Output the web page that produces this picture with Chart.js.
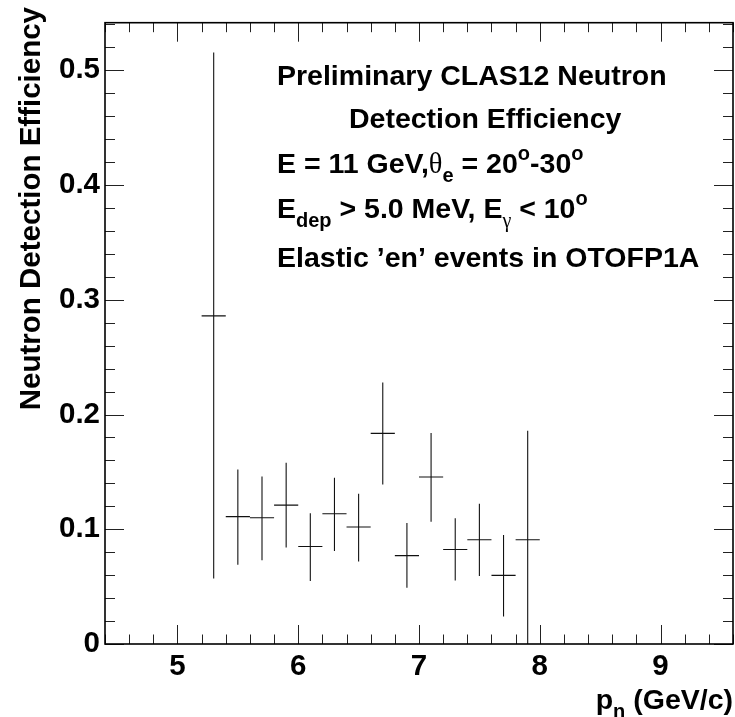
<!DOCTYPE html>
<html>
<head>
<meta charset="utf-8">
<script src="https://cdn.jsdelivr.net/npm/chart.js@4.4.1/dist/chart.umd.min.js"></script>
<style>
  html, body { margin: 0; padding: 0; background: #fff; }
  #wrap { width: 735px; height: 717px; position: relative; }
</style>
</head>
<body>
<div id="wrap"><canvas id="chart"></canvas></div>
<script>
// neutron momentum bin centres (GeV/c) and half bin width
const pn = [5.3, 5.5, 5.7, 5.9, 6.1, 6.3, 6.5, 6.7, 6.9, 7.1, 7.3, 7.5, 7.7, 7.9]
const binHalf = 0.1
// efficiency and the ends of its error bar
const eff     = [0.286, 0.111, 0.110, 0.121, 0.085, 0.1135, 0.102, 0.1836, 0.077, 0.1455, 0.0823, 0.0908, 0.0598, 0.0908]
const effHigh = [0.5155, 0.152, 0.146, 0.158, 0.114, 0.145, 0.131, 0.228, 0.1055, 0.184, 0.1095, 0.1223, 0.095, 0.1858]
const effLow  = [0.057, 0.069, 0.073, 0.084, 0.055, 0.081, 0.072, 0.139, 0.049, 0.1066, 0.0553, 0.0593, 0.024, -0.004]

const xTicks = [5, 6, 7, 8, 9]
const yTicks = [0, 0.1, 0.2, 0.3, 0.4, 0.5]
const yTickLabels = ["0", "0.1", "0.2", "0.3", "0.4", "0.5"]

const xRange = [4.4, 9.6]
const yRange = [0, 0.5415]

const FONT = "'Liberation Sans', Arial, Helvetica, sans-serif"
const SERIF = "'Liberation Serif', 'DejaVu Serif', serif"

// text lines: pieces are [text, kind, font]
const notes = [
  { x: 277, y: 85, parts: [["Preliminary CLAS12 Neutron"]] },
  { x: 349, y: 128, parts: [["Detection Efficiency"]] },
  { x: 277, y: 173, parts: [["E = 11 GeV,"], ["\u03b8", null, "serif"], ["e", "sub"], [" = 20"], ["o", "sup"], ["-30"], ["o", "sup"]] },
  { x: 277, y: 218, parts: [["E"], ["dep", "sub"], [" > 5.0 MeV, E"], ["\u03b3", "sub", "serif"], [" < 10"], ["o", "sup"]] },
  { x: 277, y: 267, parts: [["Elastic \u2019en\u2019 events in OTOFP1A"]] }
]

function pieceFont(p, size) {
  const s = p[1] ? Math.round(size * 0.7) : size
  if (p[2] === "serif") return s + "px " + SERIF
  return "bold " + s + "px " + FONT
}

function richWidth(ctx, parts, size) {
  let w = 0
  parts.forEach(p => { ctx.font = pieceFont(p, size); w += ctx.measureText(p[0]).width })
  return w
}

function drawRich(ctx, parts, x, y, size) {
  ctx.textBaseline = "alphabetic"
  ctx.textAlign = "left"
  parts.forEach(p => {
    ctx.font = pieceFont(p, size)
    let dy = 0
    if (p[1] === "sub") dy = size * 0.3
    if (p[1] === "sup") dy = -size * 0.45
    ctx.fillText(p[0], x, y + dy)
    x += ctx.measureText(p[0]).width
  })
}

const rootStyle = {
  id: "rootStyle",
  afterDatasetsDraw(chart) {
    const { ctx, chartArea: a, scales: { x, y } } = chart
    ctx.save()

    // error bars
    ctx.beginPath()
    ctx.rect(a.left, a.top, a.right - a.left, a.bottom - a.top)
    ctx.clip()
    ctx.strokeStyle = "#111"
    ctx.lineWidth = 1.1
    pn.forEach((v, i) => {
      const px = x.getPixelForValue(v)
      const py = y.getPixelForValue(eff[i])
      ctx.beginPath()
      ctx.moveTo(x.getPixelForValue(v - binHalf), py)
      ctx.lineTo(x.getPixelForValue(v + binHalf), py)
      ctx.moveTo(px, y.getPixelForValue(effLow[i]))
      ctx.lineTo(px, y.getPixelForValue(effHigh[i]))
      ctx.stroke()
    })
    ctx.restore()
    ctx.save()

    // inner ticks on all four sides
    ctx.strokeStyle = "#222"
    ctx.lineWidth = 1
    ctx.beginPath()
    for (let k = Math.ceil(xRange[0] / 0.2); k * 0.2 <= xRange[1] + 1e-9; k++) {
      const v = k * 0.2
      const major = Math.abs(v - Math.round(v)) < 1e-6
      const len = major ? 19 : 9.5
      const px = Math.round(x.getPixelForValue(v)) + 0.5
      ctx.moveTo(px, a.bottom); ctx.lineTo(px, a.bottom - len)
      ctx.moveTo(px, a.top); ctx.lineTo(px, a.top + len)
    }
    for (let k = 0; k * 0.02 <= yRange[1] + 1e-9; k++) {
      const v = k * 0.02
      const major = k % 5 === 0
      const len = major ? 19 : 10
      const py = Math.round(y.getPixelForValue(v)) + 0.5
      ctx.moveTo(a.left, py); ctx.lineTo(a.left + len, py)
      ctx.moveTo(a.right, py); ctx.lineTo(a.right - len, py)
    }
    ctx.stroke()

    // frame
    ctx.strokeStyle = "#000"
    ctx.lineWidth = 1.6
    ctx.strokeRect(a.left, a.top, a.right - a.left, a.bottom - a.top)

    // axis titles
    ctx.fillStyle = "#000"
    ctx.save()
    ctx.translate(40, 7)
    ctx.rotate(-Math.PI / 2)
    ctx.font = "bold 29.5px " + FONT
    ctx.textAlign = "right"
    ctx.textBaseline = "alphabetic"
    ctx.fillText("Neutron Detection Efficiency", 0, 0)
    ctx.restore()

    const xTitle = [["p"], ["n", "sub"], [" (GeV/c)"]]
    const tw = richWidth(ctx, xTitle, 28.5)
    drawRich(ctx, xTitle, a.right - tw, 709, 28.5)

    // annotation block
    notes.forEach(n => drawRich(ctx, n.parts, n.x, n.y, 28.5))
    ctx.restore()
  }
}

new Chart(document.getElementById("chart"), {
  type: "scatter",
  data: {
    datasets: [{
      label: "efficiency",
      data: pn.map((v, i) => ({ x: v, y: eff[i] })),
      pointRadius: 0,
      showLine: false
    }]
  },
  options: {
    responsive: true,
    maintainAspectRatio: false,
    animation: false,
    layout: { padding: { top: 7, right: 2, left: 0, bottom: 0 } },
    plugins: { legend: { display: false }, tooltip: { enabled: false } },
    scales: {
      x: {
        type: "linear",
        min: xRange[0],
        max: xRange[1],
        afterBuildTicks: s => { s.ticks = xTicks.map(v => ({ value: v })) },
        afterFit: s => { s.height = 73 },
        grid: { display: false, drawTicks: false },
        border: { display: false },
        ticks: {
          color: "#000",
          padding: 5,
          maxRotation: 0,
          font: { family: FONT, size: 29.5, weight: "bold" },
          callback: v => String(v)
        }
      },
      y: {
        type: "linear",
        min: yRange[0],
        max: yRange[1],
        afterBuildTicks: s => { s.ticks = yTicks.map(v => ({ value: v })) },
        afterFit: s => { s.width = 105 },
        grid: { display: false, drawTicks: false },
        border: { display: false },
        ticks: {
          color: "#000",
          padding: 5,
          font: { family: FONT, size: 29.5, weight: "bold" },
          callback: v => yTickLabels[yTicks.findIndex(t => Math.abs(t - v) < 1e-9)]
        }
      }
    }
  },
  plugins: [rootStyle]
})
</script>
</body>
</html>
